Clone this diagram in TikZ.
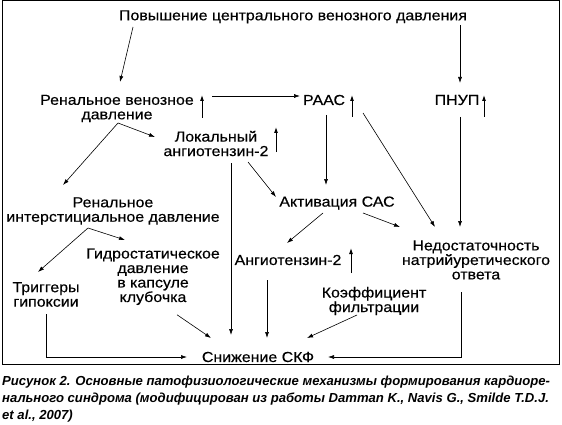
\documentclass[tikz,border=0pt]{standalone}
\usepackage{fontspec}
\setmainfont[FakeStretch=1.1,FakeBold=0.35]{Liberation Sans}
\newfontfamily\capfont{Liberation Sans}
\usepackage{tikz}
\usetikzlibrary{arrows.meta,positioning,calc}

\begin{document}
\begin{tikzpicture}[
      x=1pt,y=-1pt,
      nd/.style={align=center,inner sep=0pt,font=\fontsize{14.5}{14.5}\selectfont},
      arr/.style={-{Latex[length=6pt,width=4pt]},line width=0.6pt},
      upr/.style={-{Latex[length=6pt,width=4pt]},line width=0.9pt}
    ]
    \useasboundingbox (0,0) rectangle (562,425);
    \draw[line width=1pt] (2,1) rectangle (559,364);
    \node[nd] (pcvd) at (293,16.8) {Повышение центрального венозного давления};
    \node[nd] (rvd) at (117,108.5) {Ренальное венозное\\давление};
    \node[nd] (raas) at (324,100) {РААС};
    \node[nd] (pnup) at (457,100) {ПНУП};
    \node[nd] (lang) at (216,143.5) {Локальный\\ангиотензин-2};
    \node[nd] (asas) at (337,203) {Активация САС};
    \node[nd] (rid) at (113,211) {Ренальное\\интерстициальное давление};
    \node[nd] (ang) at (288,260) {Ангиотензин-2};
    \node[nd] (ned) at (476,260) {Недостаточность\\натрийуретического\\ответа};
    \node[nd] (gid) at (153,276.75) {Гидростатическое\\давление\\в капсуле\\клубочка};
    \node[nd] (trig) at (46,294.5) {Триггеры\\гипоксии};
    \node[nd] (koef) at (374,301) {Коэффициент\\фильтрации};
    \node[nd] (skf) at (258,357) {Снижение СКФ};
    \draw[arr] ($(pcvd)+(-160,10.2)$) -- ($(rvd)+(3,-26.5)$);
    \draw[arr] ($(pcvd)+(167,8.2)$) -- ($(pnup)+(3,-17)$);
    \draw[arr] ($(rvd)+(95,-12.5)$) -- ($(raas)+(-24,-4)$);
    \draw[arr] ($(rvd)+(1,14.5)$) -- ($(lang)+(-61,-6.5)$);
    \draw[arr] ($(rvd)+(1,14.5)$) -- ($(rid)+(-50,-26)$);
    \draw[arr] ($(raas)+(2,15)$) -- ($(asas)+(-11,-18)$);
    \draw[arr] ($(raas)+(39,13)$) -- ($(ned)+(-41,-33)$);
    \draw[arr] ($(pnup)+(3,17)$) -- ($(ned)+(-16,-33)$);
    \draw[arr] ($(lang)+(32,18.5)$) -- ($(asas)+(-61,-6)$);
    \draw[arr] ($(lang)+(15,19.5)$) -- ($(skf)+(-27,-22)$);
    \draw[arr] ($(asas)+(-14,10)$) -- ($(ang)+(-1,-17)$);
    \draw[arr] ($(asas)+(26,10)$) -- ($(ned)+(-76,-33)$);
    \draw[arr] ($(rid)+(-25,17)$) -- ($(trig)+(-8,-22.5)$);
    \draw[arr] ($(rid)+(-25,17)$) -- ($(gid)+(-28,-36.75)$);
    \draw[arr] ($(trig)+(0,19.5)$) |- ($(skf)+(-71,0)$);
    \draw[arr] ($(gid)+(24,38)$) -- ($(skf)+(-47,-19)$);
    \draw[arr] ($(ang)+(-21,20)$) -- ($(skf)+(9,-19)$);
    \draw[arr] ($(koef)+(-17,14)$) -- ($(skf)+(49,-19)$);
    \draw[arr] ($(ned)+(-15,32)$) |- ($(skf)+(70,0)$);
    \foreach \n/\dx/\dy/\len in {rvd/85/9.5/23,raas/28/17/22,pnup/27/17/22,lang/60/8.5/25,ang/63/13/25}
      \draw[upr] ($(\n)+(\dx,\dy)$) -- ++(0,-\len);
    \node[anchor=north west,inner sep=0pt,align=left,font=\capfont\fontsize{13.1}{17}\selectfont\bfseries\itshape] (cap) at (2,376)
      {Рисунок 2. Основные патофизиологические механизмы формирования кардиоре-\\
       нального синдрома (модифицирован из работы Damman K., Navis G., Smilde T.D.J.\\
       et al., 2007)};
  \end{tikzpicture}
\end{document}
